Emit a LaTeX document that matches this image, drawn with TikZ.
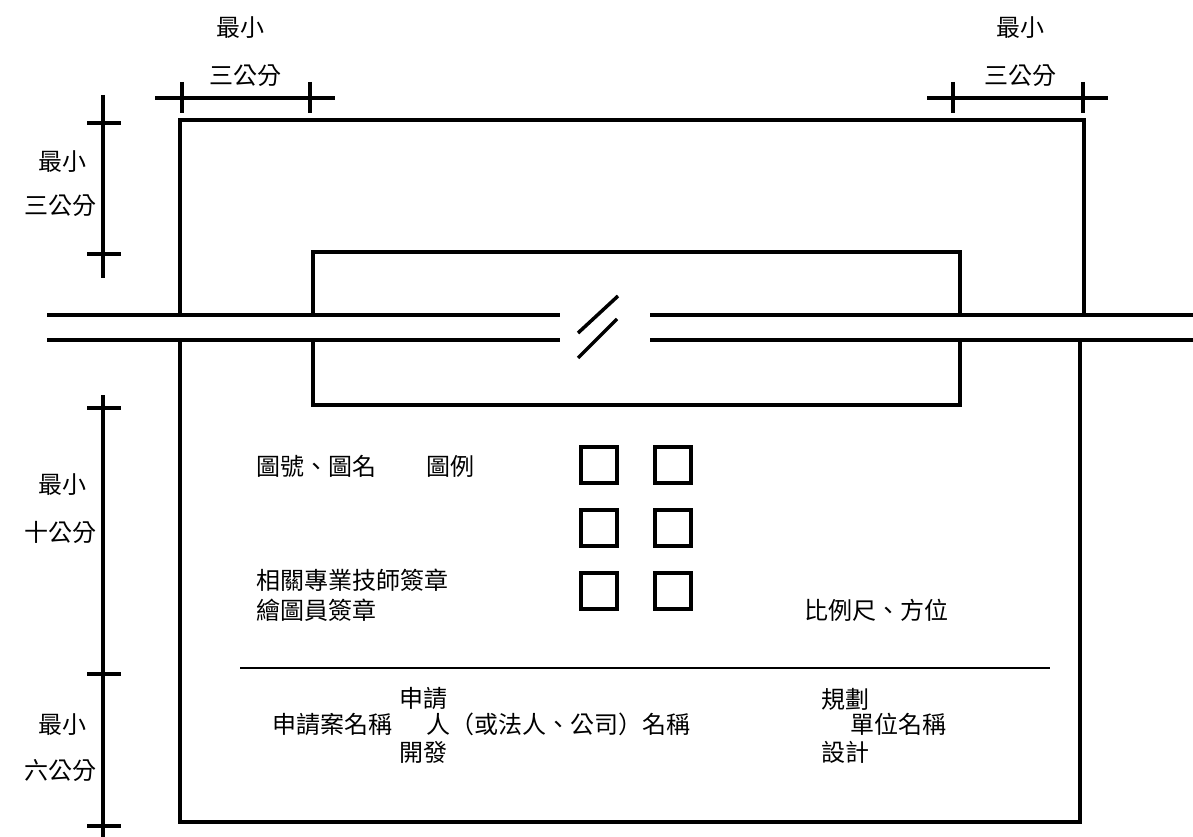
\documentclass[tikz,border=0pt]{standalone}
\usepackage{fontspec}
\newfontfamily\cjk{Noto Sans CJK TC}
\usetikzlibrary{positioning}

\tikzset{
  wall/.style={line width=3.5pt},
  dimline/.style={line width=3.5pt},
  lbl/.style={font=\cjk\fontsize{24}{26}\selectfont, inner sep=0pt},
  stampbox/.style={draw, line width=3.5pt, minimum size=36pt, inner sep=0pt},
}

\begin{document}
\begin{tikzpicture}[x=1pt,y=-1pt]
\useasboundingbox (0,0) rectangle (1193,837);
% lot frame, cut by the road
\draw[wall] (180,315) -- (180,120) -- (1084,120) -- (1084,315);
\draw[wall] (180,340) -- (180,822) -- (1080,822) -- (1080,340);
% building outline
\draw[wall] (313,315) -- (313,252) -- (960,252) -- (960,315);
\draw[wall] (313,340) -- (313,405) -- (960,405) -- (960,340);
% road with break mark
\foreach \y in {315,340}{\draw[wall] (47,\y) -- (560,\y); \draw[wall] (650,\y) -- (1193,\y);}
\draw[wall] (578,333) -- (618,296) (578,358) -- (617,319);
% top dimensions
\foreach \a/\b/\p/\q in {155/335/182/310, 927/1108/953/1083}{
  \draw[dimline] (\a,98) -- (\b,98);
  \foreach \x in {\p,\q} \draw[dimline] (\x,82) -- (\x,113);
}
\node[lbl] (topminL) at (240,28) {最小};
\node[lbl] (topcmL) at (245,76) {三公分};
\node[lbl] (topminR) at (1020,28) {最小};
\node[lbl] (topcmR) at (1020,76) {三公分};
% left dimensions
\draw[dimline] (103,95) -- (103,278);
\draw[dimline] (103,395) -- (103,837);
\foreach \y in {123,254,408,674,826} \draw[dimline] (87,\y) -- (121,\y);
\node[lbl] (leftminA) at (62,162) {最小};
\node[lbl] (leftcmA) at (60,206) {三公分};
\node[lbl] (leftminB) at (62,485) {最小};
\node[lbl] (leftcmB) at (60,532) {十公分};
\node[lbl] (leftminC) at (62,725) {最小};
\node[lbl] (leftcmC) at (60,770) {六公分};
% title block
\node[lbl, anchor=west] (drawno) at (256,466) {圖號、圖名\hspace{50pt}圖例};
\node[lbl, anchor=west] (engsign) at (256,580) {相關專業技師簽章};
\node[lbl, anchor=west] (drawsign) at (256,610) {繪圖員簽章};
\node[lbl] (scale) at (876,610) {比例尺、方位};
\foreach \x [count=\i] in {599,673}
  \foreach \y [count=\j] in {465,528,591}
    \node[stampbox] (stamp\i\j) at (\x,\y) {};
\draw[line width=2pt] (240,668) -- (1050,668);
\node[lbl, anchor=west] (casename) at (272,724) {申請案名稱};
\node[lbl, anchor=west] (applicant) at (426,724) {人（或法人、公司）名稱};
\node[lbl, anchor=west] (office) at (850,724) {單位名稱};
\node[lbl] (apply) at (423,699) {申請};
\node[lbl] (develop) at (423,752) {開發};
\node[lbl] (plan) at (845,699) {規劃};
\node[lbl] (design) at (845,752) {設計};
\end{tikzpicture}
\end{document}
